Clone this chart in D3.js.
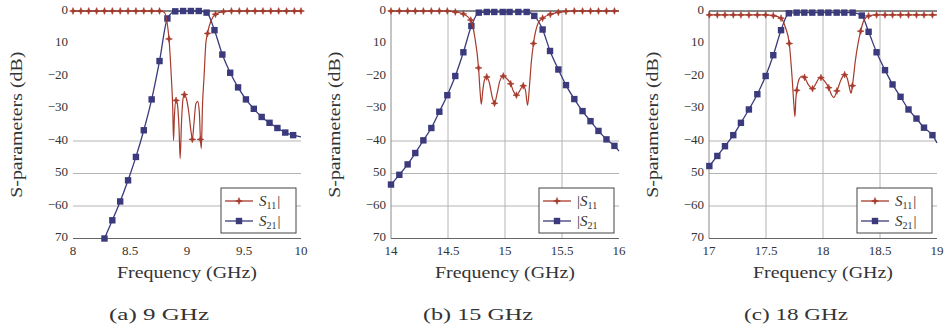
<!DOCTYPE html>
<html>
<head>
<meta charset="utf-8">
<script src="https://cdn.jsdelivr.net/npm/d3@7"></script>
<style>
  body { margin: 0; background: #fff; }
  svg { display: block; }
</style>
</head>
<body>
<svg id="chart" width="947" height="335" font-family="'Liberation Serif', 'DejaVu Serif', serif"></svg>
<script>
// [freq GHz, dB, has marker]
const s11A = [[8.000,0,1],[8.069,0,1],[8.138,0,1],[8.207,0,1],[8.276,0,1],[8.345,0,1],[8.414,0,1],[8.483,0,1],[8.552,0,1],[8.621,0,1],[8.690,0,1],[8.759,0,1],[8.800,-0.4,0],[8.842,-8.6,1],[8.862,-20,0],[8.875,-30,0],[8.882,-39.8,0],[8.890,-32,0],[8.904,-27.5,1],[8.915,-28.5,0],[8.930,-36,0],[8.940,-45.4,0],[8.952,-34,0],[8.965,-27,0],[8.977,-25.7,1],[8.995,-27,0],[9.015,-31,0],[9.035,-37,0],[9.047,-39.5,1],[9.060,-35,0],[9.078,-28.5,0],[9.094,-27.8,0],[9.108,-31,0],[9.118,-39.5,1],[9.126,-42.3,0],[9.135,-30,0],[9.150,-20,0],[9.165,-10,0],[9.180,-6.9,1],[9.210,-3,0],[9.250,-1.0,1],[9.320,-0.2,1],[9.390,0,1],[9.459,0,1],[9.528,0,1],[9.597,0,1],[9.666,0,1],[9.735,0,1],[9.804,0,1],[9.873,0,1],[9.942,0,1],[10.0,0,1]];
const s21A = [[8.276,-70,1],[8.345,-64.4,1],[8.414,-58.6,1],[8.483,-52.1,1],[8.552,-44.9,1],[8.621,-36.7,1],[8.690,-27.2,1],[8.759,-15.4,1],[8.828,-2.3,1],[8.897,-0.1,1],[8.966,0,1],[9.034,0,1],[9.103,0,1],[9.172,-0.5,1],[9.241,-5.9,1],[9.310,-13.4,1],[9.379,-19.0,1],[9.448,-23.5,1],[9.517,-27.2,1],[9.586,-30.1,1],[9.655,-32.6,1],[9.724,-34.4,1],[9.793,-36.0,1],[9.862,-37.4,1],[9.931,-38.2,1],[10.0,-38.7,0]];

const s11B = [[14.000,0,1],[14.073,0,1],[14.146,0,1],[14.213,0,1],[14.284,0,1],[14.354,0,1],[14.424,0,1],[14.494,0,1],[14.564,-0.3,1],[14.635,-0.9,1],[14.700,-2.8,1],[14.735,-8,0],[14.768,-17.5,1],[14.782,-25,0],[14.792,-28.7,0],[14.805,-24.5,0],[14.822,-21,0],[14.840,-20.3,1],[14.862,-22,0],[14.888,-26.5,0],[14.908,-28.4,1],[14.930,-25.5,0],[14.955,-21.5,0],[14.985,-20.0,1],[15.015,-20.8,0],[15.050,-22.4,1],[15.075,-24.8,0],[15.100,-25.9,1],[15.130,-24.5,0],[15.160,-23.0,1],[15.180,-24.5,0],[15.198,-29.0,0],[15.215,-23,0],[15.230,-16,0],[15.250,-10,1],[15.290,-3.8,0],[15.330,-2.2,1],[15.398,-1.0,1],[15.468,-0.4,1],[15.535,-0.1,1],[15.608,0,1],[15.680,0,1],[15.750,0,1],[15.820,0,1],[15.890,0,1],[15.960,0,1],[16.0,0,0]];
const s21B = [[14.000,-53.4,1],[14.073,-50.4,1],[14.146,-47.2,1],[14.213,-43.7,1],[14.284,-39.8,1],[14.354,-36.0,1],[14.424,-31.0,1],[14.494,-25.9,1],[14.564,-20.0,1],[14.635,-12.7,1],[14.705,-4.6,1],[14.770,-0.5,1],[14.840,-0.3,1],[14.906,-0.3,1],[14.980,-0.3,1],[15.040,-0.3,1],[15.117,-0.3,1],[15.190,-0.3,1],[15.257,-1.5,1],[15.330,-5.7,1],[15.395,-12.3,1],[15.468,-18.0,1],[15.535,-22.8,1],[15.608,-27.1,1],[15.680,-30.8,1],[15.750,-33.9,1],[15.820,-36.9,1],[15.890,-39.5,1],[15.960,-41.5,1],[16.0,-43.1,0]];

const s11C = [[17.003,-1.2,1],[17.073,-1.2,1],[17.140,-1.2,1],[17.213,-1.2,1],[17.280,-1.2,1],[17.350,-1.2,1],[17.424,-1.2,1],[17.497,-1.2,1],[17.564,-1.4,1],[17.632,-2.2,1],[17.670,-5,0],[17.704,-10,1],[17.728,-20,0],[17.745,-29,0],[17.754,-32.5,0],[17.762,-27,0],[17.770,-24.4,1],[17.790,-21,0],[17.815,-20.0,0],[17.838,-20.4,1],[17.870,-22.6,0],[17.908,-23.9,1],[17.940,-22.2,0],[17.968,-20.6,0],[17.982,-20.5,1],[18.012,-21.5,0],[18.050,-23.6,1],[18.078,-26,0],[18.095,-26.6,0],[18.122,-24.6,1],[18.160,-21,0],[18.190,-19.6,1],[18.215,-21,0],[18.238,-24.5,0],[18.247,-25.3,0],[18.258,-23.0,1],[18.285,-15,0],[18.330,-6.2,1],[18.360,-2.8,0],[18.400,-1.5,1],[18.470,-1.2,1],[18.544,-1.2,1],[18.610,-1.2,1],[18.680,-1.2,1],[18.750,-1.2,1],[18.820,-1.2,1],[18.886,-1.2,1],[18.960,-1.2,1],[19.0,-1.2,0]];
const s21C = [[17.003,-47.7,1],[17.073,-44.6,1],[17.140,-41.6,1],[17.213,-38.2,1],[17.280,-34.4,1],[17.350,-30.3,1],[17.424,-25.6,1],[17.497,-20.0,1],[17.564,-13.6,1],[17.632,-5.9,1],[17.700,-0.7,1],[17.769,-0.5,1],[17.836,-0.5,1],[17.906,-0.5,1],[17.980,-0.5,1],[18.047,-0.5,1],[18.120,-0.5,1],[18.187,-0.5,1],[18.260,-0.5,1],[18.340,-1.4,1],[18.400,-6.4,1],[18.470,-12.7,1],[18.544,-18.2,1],[18.610,-22.6,1],[18.680,-26.4,1],[18.750,-30.3,1],[18.820,-33.1,1],[18.886,-35.9,1],[18.960,-38.2,1],[19.0,-40.6,0]];

const xTicksA = [8, 8.5, 9, 9.5, 10];
const xTicksB = [14, 14.5, 15, 15.5, 16];
const xTicksC = [17, 17.5, 18, 18.5, 19];
const yTicks = [0, -10, -20, -30, -40, -50, -60, -70];
const yTickLabels = ["0", "10", "\u221220", "\u221230", "\u221240", "50", "\u221260", "70"];
const hGrid = [-40, -50, -60];
const captions = ["(a) 9 GHz", "(b) 15 GHz", "(c) 18 GHz"];
const legendPre = ["", "|", ""];
const legendPost = ["|", "", "|"];

const red = "#a63a2c", blue = "#3a3a7c", ink = "#333";
const svg = d3.select("#chart");

const panels = [
  { s11: s11A, s21: s21A, ticks: xTicksA, left: 73, vgrid: false, capW: 100, capDx: -28 },
  { s11: s11B, s21: s21B, ticks: xTicksB, left: 391, vgrid: true, capW: 110, capDx: -27 },
  { s11: s11C, s21: s21C, ticks: xTicksC, left: 709, vgrid: true, capW: 104, capDx: -27 }
];

const starPath = "M0,-3.4L0.9,-0.9L3.4,0L0.9,0.9L0,3.4L-0.9,0.9L-3.4,0L-0.9,-0.9Z";

function drawMark(g, x, y, kind) {
  if (kind === "s11") {
    g.append("path").attr("d", starPath).attr("transform", `translate(${x},${y})`)
      .attr("fill", red).attr("stroke", red).attr("stroke-width", 0.6);
  } else {
    g.append("rect").attr("x", x - 3.2).attr("y", y - 3.2).attr("width", 6.4).attr("height", 6.4)
      .attr("fill", blue);
  }
}

panels.forEach((p, i) => {
  const w = 228, top = 11, bottom = 238.5;
  const x = d3.scaleLinear().domain([p.ticks[0], p.ticks[4]]).range([p.left, p.left + w]);
  const y = d3.scaleLinear().domain([-70, 0]).range([bottom, top]);
  const g = svg.append("g").attr("fill", ink);

  // grid
  hGrid.forEach(v => g.append("line").attr("x1", p.left).attr("x2", p.left + w)
    .attr("y1", y(v)).attr("y2", y(v)).attr("stroke", "#b4b4b4").attr("stroke-width", 1));
  if (p.vgrid) {
    p.ticks.slice(1, 4).forEach(v => g.append("line").attr("x1", x(v)).attr("x2", x(v))
      .attr("y1", top).attr("y2", bottom).attr("stroke", "#b4b4b4").attr("stroke-width", 1));
    g.append("line").attr("x1", p.left).attr("x2", p.left).attr("y1", top).attr("y2", bottom)
      .attr("stroke", "#8a8a8a").attr("stroke-width", 1);
  }
  g.append("line").attr("x1", p.left).attr("x2", p.left + w).attr("y1", y(0)).attr("y2", y(0))
    .attr("stroke", "#111").attr("stroke-width", 1);
  g.append("line").attr("x1", p.left).attr("x2", p.left + w).attr("y1", bottom).attr("y2", bottom)
    .attr("stroke", "#666").attr("stroke-width", 1);

  // tick labels
  yTicks.forEach((v, k) => g.append("text").attr("x", p.left - 5).attr("y", y(v))
    .attr("text-anchor", "end").attr("dominant-baseline", "middle")
    .attr("font-size", 13).text(yTickLabels[k]));
  p.ticks.forEach(v => g.append("text").attr("x", x(v)).attr("y", 252)
    .attr("text-anchor", "middle").attr("dominant-baseline", "middle")
    .attr("font-size", 13).text(v));

  // curves
  const line = d3.line().x(d => x(d[0])).y(d => y(d[1])).curve(d3.curveMonotoneX);
  g.append("path").datum(p.s21).attr("d", line).attr("fill", "none")
    .attr("stroke", blue).attr("stroke-width", 1.3);
  p.s21.filter(d => d[2]).forEach(d => drawMark(g, x(d[0]), y(d[1]), "s21"));
  g.append("path").datum(p.s11).attr("d", line).attr("fill", "none")
    .attr("stroke", red).attr("stroke-width", 1.2);
  p.s11.filter(d => d[2]).forEach(d => drawMark(g, x(d[0]), y(d[1]), "s11"));

  // legend
  const lx = p.left + w - 80, ly = 188;
  g.append("rect").attr("x", lx).attr("y", ly).attr("width", 75).attr("height", 45)
    .attr("fill", "#fff").attr("stroke", "#444").attr("stroke-width", 1);
  [["s11", red, "11"], ["s21", blue, "21"]].forEach((e, k) => {
    const yy = ly + 13 + k * 20;
    g.append("line").attr("x1", lx + 4).attr("x2", lx + 32).attr("y1", yy).attr("y2", yy)
      .attr("stroke", e[1]).attr("stroke-width", 1.3);
    drawMark(g, lx + 18, yy, e[0]);
    const t = g.append("text").attr("x", lx + 38).attr("y", yy + 5).attr("font-size", 15)
      .attr("fill", ink);
    if (legendPre[i]) t.append("tspan").text(legendPre[i]);
    t.append("tspan").attr("font-style", "italic").text("S");
    t.append("tspan").attr("font-size", 10).attr("dy", 3).text(e[2]);
    if (legendPost[i]) t.append("tspan").attr("dy", -3).attr("dx", 1).attr("font-size", 15).text(legendPost[i]);
  });

  // axis titles
  const cx = p.left + w / 2;
  g.append("text").attr("x", cx).attr("y", 274).attr("text-anchor", "middle")
    .attr("dominant-baseline", "middle").attr("font-size", 16)
    .attr("textLength", 140).attr("lengthAdjust", "spacingAndGlyphs").text("Frequency (GHz)");
  g.append("text").attr("transform", `translate(${p.left - 55},${(top + bottom) / 2}) rotate(-90)`)
    .attr("text-anchor", "middle").attr("dominant-baseline", "middle").attr("font-size", 16)
    .attr("textLength", 146).attr("lengthAdjust", "spacingAndGlyphs").text("S-parameters (dB)");
  g.append("text").attr("x", cx + p.capDx).attr("y", 316).attr("text-anchor", "middle")
    .attr("dominant-baseline", "middle").attr("font-size", 17)
    .attr("textLength", p.capW).attr("lengthAdjust", "spacingAndGlyphs").text(captions[i]);
});
</script>
</body>
</html>
